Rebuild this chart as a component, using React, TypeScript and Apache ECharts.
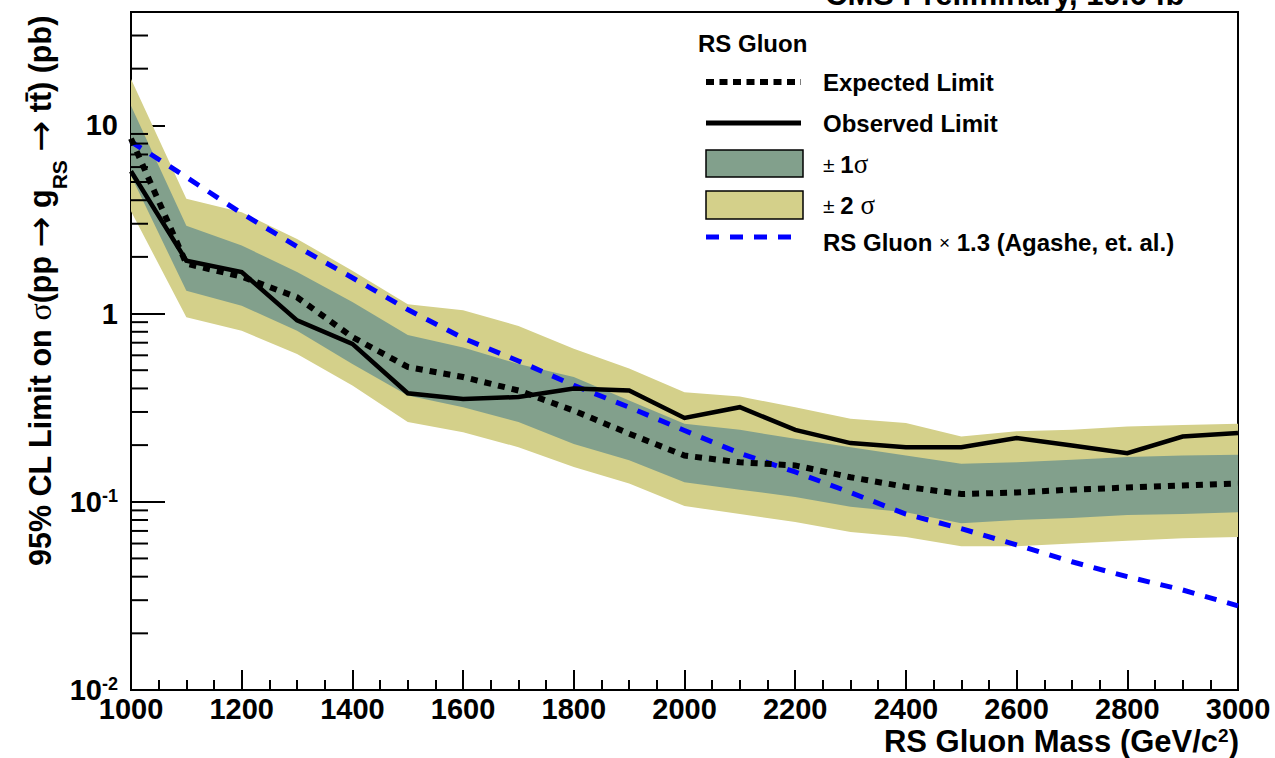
import React, { useEffect, useRef } from "react";
import * as echarts from "echarts";

// ---- data ----
const masses = [1000, 1100, 1200, 1300, 1400, 1500, 1600, 1700, 1800, 1900, 2000, 2100, 2200, 2300, 2400, 2500, 2600, 2700, 2800, 2900, 3000];
const expected = [8.5, 1.84, 1.57, 1.22, 0.75, 0.52, 0.46, 0.39, 0.305, 0.23, 0.176, 0.162, 0.156, 0.135, 0.12, 0.11, 0.112, 0.116, 0.119, 0.122, 0.125];
const observed = [5.7, 1.91, 1.66, 0.92, 0.69, 0.377, 0.352, 0.36, 0.4, 0.39, 0.279, 0.318, 0.241, 0.205, 0.195, 0.195, 0.218, 0.199, 0.181, 0.222, 0.232];
const oneSigmaUp = [12.7, 2.93, 2.3, 1.66, 1.15, 0.77, 0.66, 0.54, 0.46, 0.345, 0.26, 0.241, 0.216, 0.195, 0.176, 0.159, 0.162, 0.167, 0.173, 0.176, 0.178];
const oneSigmaDown = [5.4, 1.32, 1.1, 0.81, 0.54, 0.367, 0.318, 0.265, 0.203, 0.166, 0.127, 0.116, 0.106, 0.094, 0.088, 0.077, 0.08, 0.082, 0.085, 0.086, 0.088];
const twoSigmaUp = [17.6, 4.07, 3.45, 2.49, 1.69, 1.12, 1.04, 0.86, 0.65, 0.51, 0.382, 0.362, 0.318, 0.276, 0.262, 0.222, 0.237, 0.241, 0.251, 0.256, 0.26];
const twoSigmaDown = [3.5, 0.955, 0.81, 0.61, 0.415, 0.265, 0.234, 0.195, 0.153, 0.125, 0.095, 0.086, 0.078, 0.069, 0.065, 0.058, 0.058, 0.06, 0.062, 0.064, 0.065];
const theory = [8.2, 5.3, 3.41, 2.27, 1.55, 1.05, 0.74, 0.56, 0.415, 0.318, 0.239, 0.181, 0.144, 0.112, 0.086, 0.072, 0.059, 0.048, 0.04, 0.034, 0.028];

const yMajorTicks = [0.01, 0.1, 1, 10];
const yTickLabels = ["{b|10}{s|-2}", "{b|10}{s|-1}", "{b|1}", "{b|10}"];
const yMinorTicks = [
  0.02, 0.03, 0.04, 0.05, 0.06, 0.07, 0.08, 0.09,
  0.2, 0.3, 0.4, 0.5, 0.6, 0.7, 0.8, 0.9,
  2, 3, 4, 5, 6, 7, 8, 9,
  20, 30,
];
const xMin = 1000;
const xMax = 3000;
const yMin = 0.01;
const yMax = 40;

const FONT = '"Liberation Sans", Arial, Helvetica, sans-serif';
const SERIF = '"Liberation Serif", "DejaVu Serif", serif';
const ARROWFONT = '"DejaVu Sans", sans-serif';
const GREEN = "#82a08c";
const YELLOW = "#d4d08a";
const BLUE = "#0000ff";

function bandSeries(upper: number[], lower: number[], color: string, z: number) {
  return {
    type: "custom",
    silent: true,
    z,
    clip: true,
    data: [[masses[0], upper[0]]],
    encode: { x: 0, y: 1 },
    renderItem: (_p: any, api: any) => {
      const top = upper.map((v, i) => api.coord([masses[i], v]));
      const bot = lower.map((v, i) => api.coord([masses[i], v])).reverse();
      return {
        type: "polygon",
        shape: { points: top.concat(bot) },
        style: { fill: color, stroke: "none" },
      };
    },
  };
}

function lineSeries(vals: number[], color: string, width: number, dash: any, z: number) {
  return {
    type: "line",
    silent: true,
    z,
    symbol: "none",
    data: masses.map((m, i) => [m, vals[i]]),
    lineStyle: { color, width, type: dash, cap: "butt", join: "miter" },
  };
}

export default function App() {
  const ref = useRef<HTMLDivElement>(null);
  useEffect(() => {
    if (!ref.current) return;
    const chart = echarts.init(ref.current, undefined, { renderer: "svg" });
    const bold = { fontFamily: FONT, fontWeight: "bold", fill: "#000" };
    const legendText = (y: number, text: string, rich?: any) => ({
      type: "text",
      x: 823,
      y,
      style: { text, font: `bold 24px ${FONT}`, fill: "#000", verticalAlign: "middle", align: "left", rich },
    });
    const legendRich = {
      pm: { fontFamily: FONT, fontSize: 21, fontWeight: "normal", fill: "#000" },
      n: { fontFamily: FONT, fontSize: 24, fontWeight: "bold", fill: "#000" },
      sg: { fontFamily: SERIF, fontSize: 27, fontWeight: "normal", fill: "#000" },
      x: { fontFamily: FONT, fontSize: 19, fontWeight: "normal", fill: "#000" },
    };

    const option: any = {
      animation: false,
      backgroundColor: "#fff",
      grid: {
        left: 131,
        right: 37,
        top: 12,
        bottom: 68,
        show: true,
        borderColor: "#000",
        borderWidth: 2,
        backgroundColor: "transparent",
      },
      xAxis: {
        type: "value",
        min: xMin,
        max: xMax,
        interval: 200,
        axisLine: { show: true, lineStyle: { color: "#000", width: 2 } },
        axisTick: { show: true, inside: true, length: 20, lineStyle: { color: "#000", width: 2 } },
        minorTick: { show: true, splitNumber: 4, length: 10, lineStyle: { color: "#000", width: 2 } },
        splitLine: { show: false },
        minorSplitLine: { show: false },
        axisLabel: {
          color: "#000",
          fontSize: 29,
          fontWeight: "bold",
          fontFamily: FONT,
          margin: 4,
          formatter: (v: number) => String(v),
        },
      },
      yAxis: {
        type: "log",
        logBase: 10,
        min: yMin,
        max: yMax,
        axisLine: { show: true, lineStyle: { color: "#000", width: 2 } },
        axisTick: { show: true, inside: true, length: 34, lineStyle: { color: "#000", width: 2 } },
        splitLine: { show: false },
        axisLabel: {
          margin: 13,
          showMaxLabel: false,
          formatter: (v: number) => {
            for (let i = 0; i < yMajorTicks.length; i++) {
              if (Math.abs(Math.log10(v) - Math.log10(yMajorTicks[i])) < 1e-6) return yTickLabels[i];
            }
            return "";
          },
          rich: {
            b: { fontSize: 29, fontWeight: "bold", fontFamily: FONT, color: "#000", lineHeight: 30 },
            s: { fontSize: 18, fontWeight: "bold", fontFamily: FONT, color: "#000", lineHeight: 16, verticalAlign: "top" },
          },
        },
      },
      series: [
        bandSeries(twoSigmaUp, twoSigmaDown, YELLOW, 1),
        bandSeries(oneSigmaUp, oneSigmaDown, GREEN, 2),
        lineSeries(theory, BLUE, 5, [12, 11], 3),
        lineSeries(expected, "#000", 6, [7, 7], 4),
        lineSeries(observed, "#000", 4.5, "solid", 5),
        {
          type: "custom",
          silent: true,
          clip: false,
          z: 6,
          data: yMinorTicks.map((v) => [xMin, v]),
          encode: { x: 0, y: 1 },
          renderItem: (_p: any, api: any) => {
            const pt = api.coord([api.value(0), api.value(1)]);
            return {
              type: "line",
              shape: { x1: pt[0], y1: pt[1], x2: pt[0] + 17, y2: pt[1] },
              style: { stroke: "#000", lineWidth: 2 },
            };
          },
        },
      ],
      graphic: [
        // top title (cut off by the page edge, as in the reference)
        {
          type: "text",
          x: 825,
          y: -6,
          style: { text: "CMS Preliminary, 19.6 fb", font: `bold 31px ${FONT}`, fill: "#000", verticalAlign: "middle", align: "left" },
        },
        // x axis title
        {
          type: "text",
          x: 1239,
          y: 741,
          style: {
            text: "RS Gluon Mass (GeV/c{s|2})",
            font: `bold 31px ${FONT}`,
            fill: "#000",
            align: "right",
            verticalAlign: "middle",
            rich: {
              s: { fontFamily: FONT, fontWeight: "bold", fontSize: 19, fill: "#000", verticalAlign: "top", lineHeight: 16 },
            },
          },
        },
        // y axis title
        {
          type: "text",
          x: 40,
          y: 291,
          rotation: Math.PI / 2,
          style: {
            text: "{m|95% CL Limit on }{g|σ}{m|(pp }{a|→}{m| g}{sub|RS}{m| }{a|→}{m| tt̄) (pb)}",
            align: "center",
            verticalAlign: "middle",
            rich: {
              m: { ...bold, fontSize: 30.5, lineHeight: 60 },
              g: { fontFamily: SERIF, fontSize: 32, fill: "#000", lineHeight: 60 },
              a: { fontFamily: ARROWFONT, fontSize: 37, fill: "#000", lineHeight: 60 },
              sub: { ...bold, fontSize: 21, lineHeight: 21, verticalAlign: "bottom" },
            },
          },
        },
        // legend
        {
          type: "text",
          x: 698,
          y: 43,
          style: { text: "RS Gluon", font: `bold 24px ${FONT}`, fill: "#000", verticalAlign: "middle", align: "left" },
        },
        {
          type: "line",
          shape: { x1: 706, y1: 82, x2: 801, y2: 82 },
          style: { stroke: "#000", lineWidth: 6, lineDash: [8, 5.5] },
        },
        legendText(82, "Expected Limit"),
        {
          type: "line",
          shape: { x1: 706, y1: 123, x2: 801, y2: 123 },
          style: { stroke: "#000", lineWidth: 5 },
        },
        legendText(123, "Observed Limit"),
        {
          type: "rect",
          shape: { x: 706, y: 150, width: 97, height: 27 },
          style: { fill: GREEN, stroke: "#000", lineWidth: 1.5 },
        },
        legendText(164, "{pm|± }{n|1}{sg|σ}", legendRich),
        {
          type: "rect",
          shape: { x: 706, y: 191, width: 97, height: 28 },
          style: { fill: YELLOW, stroke: "#000", lineWidth: 1.5 },
        },
        legendText(205, "{pm|± }{n|2 }{sg|σ}", legendRich),
        {
          type: "line",
          shape: { x1: 706, y1: 237, x2: 792, y2: 237 },
          style: { stroke: BLUE, lineWidth: 5, lineDash: [13, 11] },
        },
        legendText(242, "{n|RS Gluon }{x|×}{n| 1.3 (Agashe, et. al.)}", legendRich),
      ],
    };
    chart.setOption(option);
    return () => chart.dispose();
  }, []);
  return (
    <div
      ref={ref}
      style={{ position: "absolute", left: 0, top: 0, width: 1275, height: 758, background: "#fff" }}
    />
  );
}
